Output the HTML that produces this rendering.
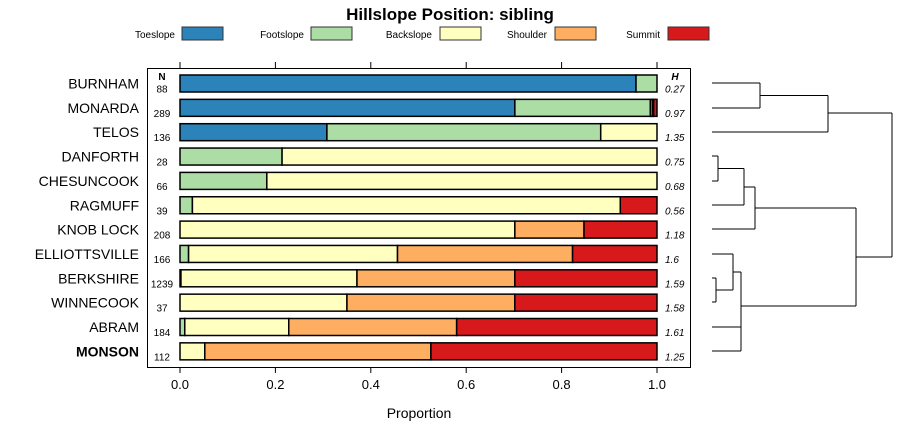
<!DOCTYPE html>
<html><head><meta charset="utf-8"><style>
body{margin:0;background:#fff;}
svg text{font-family:"Liberation Sans",sans-serif;}
</style></head><body>
<svg id="c" width="900" height="440" xmlns="http://www.w3.org/2000/svg"></svg>
<script>
const categories=["BURNHAM","MONARDA","TELOS","DANFORTH","CHESUNCOOK","RAGMUFF","KNOB LOCK","ELLIOTTSVILLE","BERKSHIRE","WINNECOOK","ABRAM","MONSON"];
const seriesNames=["Toeslope","Footslope","Backslope","Shoulder","Summit"];
const toeslope=[0.956,0.702,0.308,0,0,0,0,0,0,0,0,0];
const footslope=[0.044,0.284,0.574,0.214,0.182,0.026,0,0.018,0.002,0,0.01,0];
const backslope=[0,0.004,0.118,0.786,0.818,0.897,0.702,0.438,0.369,0.35,0.218,0.052];
const shoulder=[0,0.003,0,0,0,0,0.145,0.367,0.331,0.352,0.352,0.474];
const summit=[0,0.007,0,0,0,0.077,0.153,0.177,0.298,0.298,0.42,0.474];
const nValues=["88","289","136","28","66","39","208","166","1239","37","184","112"];
const hValues=["0.27","0.97","1.35","0.75","0.68","0.56","1.18","1.6","1.59","1.58","1.61","1.25"];
const xTicks=[0,0.2,0.4,0.6,0.8,1.0];
const xTickLabels=["0.0","0.2","0.4","0.6","0.8","1.0"];
const colors=["#2b83ba","#abdda4","#ffffbf","#fdae61","#d7191c"];
const series=[toeslope,footslope,backslope,shoulder,summit];
const svg=document.getElementById('c');
const NS="http://www.w3.org/2000/svg";
function mk(t,a,txt){const e=document.createElementNS(NS,t);for(const k in a)e.setAttribute(k,a[k]);if(txt!==undefined)e.textContent=txt;svg.appendChild(e);return e;}
const x=v=>180+v*477;
const y=i=>83.5+i*24.35;
let e;
e=mk('text',{x:450,y:20,'text-anchor':'middle','font-size':17,'font-weight':'bold'},'Hillslope Position: sibling');


const legX=[[175,182],[304,311],[432,440],[547,555],[660,668]];
seriesNames.forEach((n,i)=>{
 e=mk('text',{x:legX[i][0],y:38,'text-anchor':'end','font-size':10},n);
 
 
 e=mk('rect',{x:legX[i][1],y:27,width:41,height:13,fill:colors[i],stroke:'#333','stroke-width':1});
 
 
});
e=mk('rect',{x:147.5,y:68.5,width:543,height:299,fill:'none',stroke:'#000'});


xTicks.forEach((t,i)=>{
 mk('line',{x1:x(t),x2:x(t),y1:62,y2:68,stroke:'#000'});
 mk('line',{x1:x(t),x2:x(t),y1:367,y2:373,stroke:'#000'});
 e=mk('text',{x:x(t),y:389,'text-anchor':'middle','font-size':13},xTickLabels[i]);
 
 
});
e=mk('text',{x:419,y:418,'text-anchor':'middle','font-size':14},'Proportion');


e=mk('text',{x:162,y:80,'text-anchor':'middle','font-size':10,'font-weight':'bold'},'N');


e=mk('text',{x:675,y:80,'text-anchor':'middle','font-size':10,'font-weight':'bold','font-style':'italic'},'H');


categories.forEach((c,i)=>{
 const yc=y(i);
 e=mk('text',{x:139,y:yc+5,'text-anchor':'end','font-size':14,'font-weight':c==='MONSON'?'bold':'normal'},c);
 
 
 e=mk('text',{x:162,y:yc+9,'text-anchor':'middle','font-size':10},nValues[i]);
 
 
 e=mk('text',{x:665,y:yc+9,'font-size':10,'font-style':'italic'},hValues[i]);
 
 
 let cum=0;
 series.forEach((s,k)=>{
  const v=s[i];
  if(v>0){
   e=mk('rect',{x:x(cum),y:yc-8.5,width:x(cum+v)-x(cum),height:17,fill:colors[k],stroke:'#000','stroke-width':1.5});
   
   
  }
  cum+=v;
 });
});
// dendrogram
const segs=[[712,83,760,83],[712,108,760,108],[760,83,760,108],[760,95.5,828,95.5],[712,132,828,132],[828,95.5,828,132],[828,113,892,113],
[712,156,718,156],[712,181,718,181],[718,156,718,181],[718,168.5,744,168.5],[712,205,744,205],[744,168.5,744,205],[744,187,755,187],[712,229,755,229],[755,187,755,229],[755,208,856,208],
[712,254,733,254],[712,278,716,278],[712,302,716,302],[716,278,716,302],[716,290,733,290],[733,254,733,290],[733,272,741,272],
[712,327,741,327],[712,351,741,351],[741,327,741,351],[741,339,741,339],[741,272,741,339],[741,306,856,306],[856,208,856,306],[856,257,892,257],[892,113,892,257]];
const g=document.createElementNS(NS,'g');


svg.appendChild(g);
segs.forEach(s=>{const l=document.createElementNS(NS,'line');l.setAttribute('x1',s[0]);l.setAttribute('y1',s[1]);l.setAttribute('x2',s[2]);l.setAttribute('y2',s[3]);l.setAttribute('stroke','#000');g.appendChild(l);});
</script>
</body></html>
